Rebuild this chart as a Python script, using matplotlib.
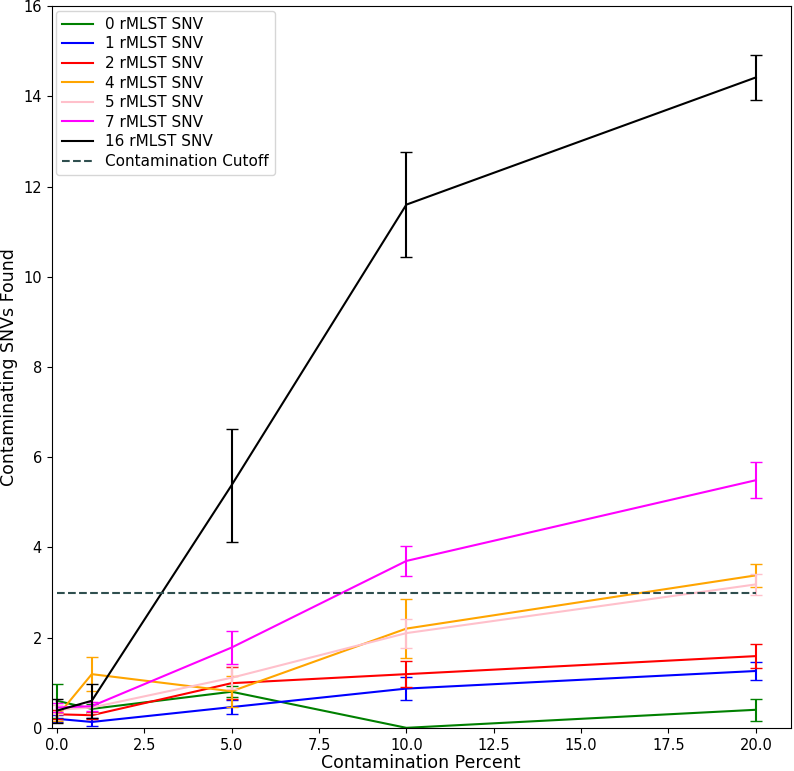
import numpy as np
import matplotlib
matplotlib.use("Agg")
import matplotlib.pyplot as plt

# contamination percent
percent = [0, 1, 5, 10, 20]

# mean contaminating SNVs per rMLST distance
snv_0 = [0.60, 0.42, 0.80, 0.00, 0.40]
snv_1 = [0.20, 0.13, 0.46, 0.87, 1.26]
snv_2 = [0.30, 0.28, 0.99, 1.19, 1.59]
snv_4 = [0.25, 1.19, 0.81, 2.20, 3.38]
snv_5 = [0.40, 0.45, 1.11, 2.10, 3.18]
snv_7 = [0.45, 0.48, 1.78, 3.70, 5.49]
snv_16 = [0.38, 0.60, 5.38, 11.60, 14.42]

# error bar half widths
err_0 = [0.38, 0.10, 0.12, 0.00, 0.25]
err_1 = [0.08, 0.08, 0.16, 0.26, 0.20]
err_2 = [0.10, 0.08, 0.36, 0.29, 0.26]
err_4 = [0.10, 0.37, 0.35, 0.66, 0.25]
err_5 = [0.10, 0.12, 0.25, 0.32, 0.23]
err_7 = [0.10, 0.10, 0.36, 0.33, 0.40]
err_16 = [0.27, 0.38, 1.25, 1.16, 0.50]

labels = ["0 rMLST SNV", "1 rMLST SNV", "2 rMLST SNV", "4 rMLST SNV",
          "5 rMLST SNV", "7 rMLST SNV", "16 rMLST SNV"]
colors = ["green", "blue", "red", "orange", "pink", "magenta", "black"]
cutoff = 3

series = [snv_0, snv_1, snv_2, snv_4, snv_5, snv_7, snv_16]
errors = [err_0, err_1, err_2, err_4, err_5, err_7, err_16]

fig = plt.figure(figsize=(7.94, 7.71), dpi=100)
ax = fig.add_subplot(111)
fig.subplots_adjust(left=0.065, right=0.996, top=0.992, bottom=0.056)

for y, e, lab, c in zip(series, errors, labels, colors):
    ax.plot(percent, y, color=c, label=lab, linewidth=1.5)
    ax.errorbar(percent, y, yerr=e, fmt="none", ecolor=c, capsize=4, elinewidth=1.5)

ax.plot([percent[0], percent[-1]], [cutoff, cutoff], linestyle="--",
        color="darkslategray", label="Contamination Cutoff")

ax.set_xlim(-0.15, 21)
ax.set_ylim(0, 16)
ax.tick_params(labelsize=10.5)
ax.set_xlabel("Contamination Percent", fontsize=12.5, labelpad=1)
ax.set_ylabel("Contaminating SNVs Found", fontsize=12.5)
ax.legend(loc="upper left", fontsize=11, labelspacing=0.3, borderaxespad=0.3)

fig.savefig("out.png", dpi=100)
